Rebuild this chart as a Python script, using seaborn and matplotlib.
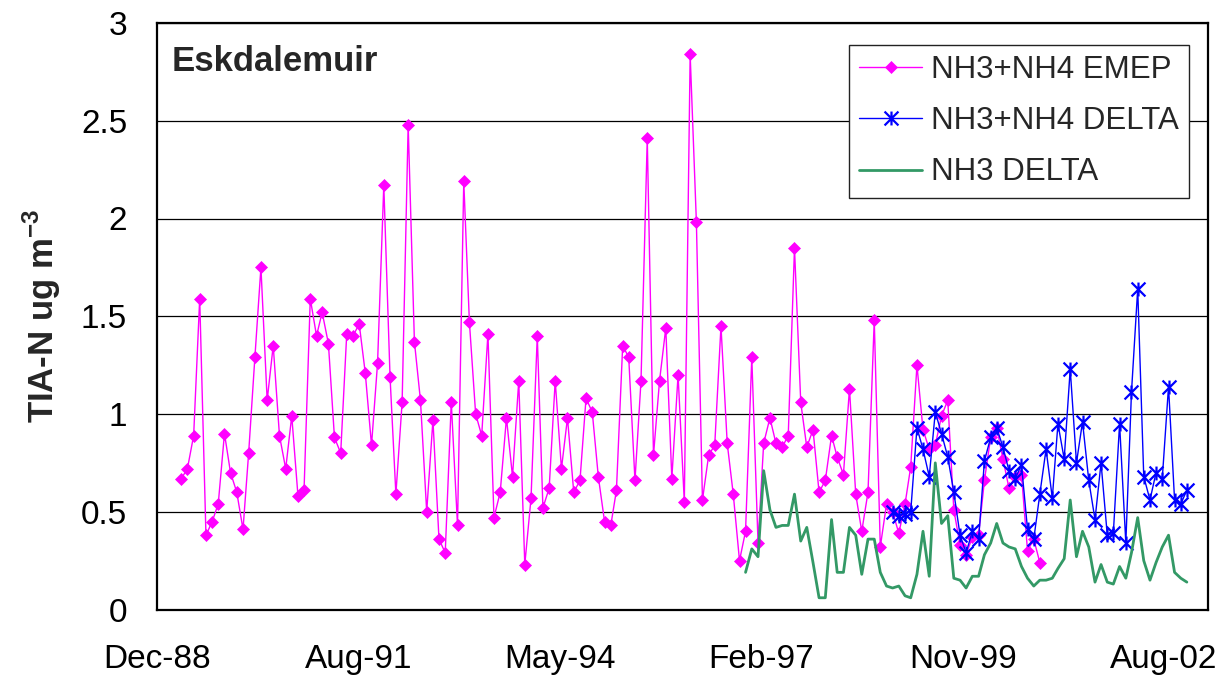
import matplotlib
matplotlib.use("Agg")
import matplotlib.pyplot as plt
from matplotlib.path import Path
import pandas as pd
import seaborn as sns

# monthly series, values
emep_start = "1989-04-01"
emep_values = [
    0.67, 0.72, 0.89, 1.59, 0.38, 0.45, 0.54, 0.90, 0.70,
    0.60, 0.41, 0.80, 1.29, 1.75, 1.07, 1.35, 0.89, 0.72, 0.99, 0.58, 0.61,
    1.59, 1.40, 1.52, 1.36, 0.88, 0.80, 1.41, 1.40, 1.46, 1.21, 0.84, 1.26,
    2.17, 1.19, 0.59, 1.06, 2.48, 1.37, 1.07, 0.50, 0.97, 0.36, 0.29, 1.06,
    0.43, 2.19, 1.47, 1.00, 0.89, 1.41, 0.47, 0.60, 0.98, 0.68, 1.17, 0.23,
    0.57, 1.40, 0.52, 0.62, 1.17, 0.72, 0.98, 0.60, 0.66, 1.08, 1.01, 0.68,
    0.45, 0.43, 0.61, 1.35, 1.29, 0.66, 1.17, 2.41, 0.79, 1.17, 1.44, 0.67,
    1.20, 0.55, 2.84, 1.98, 0.56, 0.79, 0.84, 1.45, 0.85, 0.59, 0.25, 0.40,
    1.29, 0.34, 0.85, 0.98, 0.85, 0.83, 0.89, 1.85, 1.06, 0.83, 0.92, 0.60,
    0.66, 0.89, 0.78, 0.69, 1.13, 0.59, 0.40, 0.60, 1.48, 0.32, 0.54, 0.50,
    0.39, 0.54, 0.73, 1.25, 0.92, 0.82, 0.84, 0.99, 1.07, 0.51, 0.33, 0.28,
    0.37, 0.38, 0.66, 0.88, 0.93, 0.77, 0.62, 0.68, 0.69, 0.30, 0.36, 0.24,
]

delta_tia_start = "1998-12-01"
delta_tia_values = [
    0.50,
    0.48, 0.49, 0.50, 0.93, 0.82, 0.68, 1.01, 0.90, 0.78, 0.60, 0.38, 0.29,
    0.40, 0.36, 0.76, 0.88, 0.93, 0.83, 0.71, 0.67, 0.74, 0.41, 0.36, 0.59,
    0.82, 0.57, 0.95, 0.77, 1.23, 0.75, 0.96, 0.66, 0.46, 0.75, 0.38, 0.39,
    0.95, 0.34, 1.11, 1.64, 0.68, 0.56, 0.70, 0.67, 1.14, 0.56, 0.54, 0.61,
]

delta_nh3_start = "1996-12-01"
delta_nh3_values = [
    0.19,
    0.31, 0.27, 0.71, 0.51, 0.42, 0.43, 0.43, 0.59, 0.35, 0.42, 0.24, 0.06,
    0.06, 0.46, 0.19, 0.19, 0.42, 0.38, 0.18, 0.36, 0.36, 0.19, 0.12, 0.11,
    0.12, 0.07, 0.06, 0.18, 0.40, 0.17, 0.75, 0.44, 0.48, 0.16, 0.15, 0.11,
    0.17, 0.17, 0.28, 0.34, 0.44, 0.34, 0.32, 0.31, 0.22, 0.16, 0.12, 0.15,
    0.15, 0.16, 0.21, 0.26, 0.56, 0.27, 0.40, 0.32, 0.14, 0.23, 0.14, 0.13,
    0.22, 0.16, 0.29, 0.47, 0.25, 0.15, 0.24, 0.32, 0.38, 0.19, 0.16, 0.14,
]

series_labels = ["NH3+NH4 EMEP", "NH3+NH4 DELTA", "NH3 DELTA"]
x_tick_labels = ["Dec-88", "Aug-91", "May-94", "Feb-97", "Nov-99", "Aug-02"]
y_ticks = [0, 0.5, 1, 1.5, 2, 2.5, 3]
y_tick_labels = ["0", "0.5", "1", "1.5", "2", "2.5", "3"]
site_name = "Eskdalemuir"


def monthly(start, values):
    return pd.DataFrame({
        "date": pd.date_range(start, periods=len(values), freq="MS"),
        "value": values,
    })


emep = monthly(emep_start, emep_values)
delta_tia = monthly(delta_tia_start, delta_tia_values)
delta_nh3 = monthly(delta_nh3_start, delta_nh3_values)

sns.set_style("white")
plt.rcParams["font.family"] = ["Liberation Sans", "DejaVu Sans"]
plt.rcParams["mathtext.fontset"] = "custom"
plt.rcParams["mathtext.rm"] = "Liberation Sans"
plt.rcParams["mathtext.bf"] = "Liberation Sans:bold"

fig = plt.figure(figsize=(12.25, 6.79), dpi=100)
ax = fig.add_axes([157 / 1225, 1 - 609.5 / 679, (1208 - 157) / 1225, 586.5 / 679])

# asterisk marker like Excel's: vertical bar plus an X
star = Path([(0, -1), (0, 1), (-1, -1), (1, 1), (-1, 1), (1, -1)],
            [Path.MOVETO, Path.LINETO] * 3)

sns.lineplot(data=emep, x="date", y="value", ax=ax, color="#FF00FF",
             linewidth=1.0, marker="D", markersize=6.3,
             markeredgecolor="#FF00FF", markeredgewidth=0.5,
             label=series_labels[0])
sns.lineplot(data=delta_tia, x="date", y="value", ax=ax, color="#0000FF",
             linewidth=1.0, marker=star, markersize=10,
             markeredgecolor="#0000FF", markeredgewidth=1.6,
             label=series_labels[1])
sns.lineplot(data=delta_nh3, x="date", y="value", ax=ax, color="#339966",
             linewidth=2.0, label=series_labels[2])

# Excel date axis starting Dec-88 with a major unit of 1000 days
x0 = pd.Timestamp("1988-12-01")
tick_dates = [x0 + pd.Timedelta(days=1000 * i) for i in range(len(x_tick_labels))]
ax.set_xlim(x0, pd.Timestamp("2003-03-16"))
ax.set_xticks(tick_dates)
ax.set_xticklabels(x_tick_labels)
ax.set_ylim(0, 3)
ax.set_yticks(y_ticks)
ax.set_yticklabels(y_tick_labels)

ax.grid(axis="y", color="black", linewidth=0.9)
ax.grid(axis="x", visible=False)
ax.set_axisbelow(True)
for side in ["left", "bottom", "top", "right"]:
    ax.spines[side].set_visible(True)
    ax.spines[side].set_color("black")
    ax.spines[side].set_linewidth(1.6)

ax.tick_params(axis="both", direction="out", length=7.5, width=1,
               color="black", labelsize=24, labelcolor="black")
ax.tick_params(axis="x", pad=17.5)
ax.tick_params(axis="y", pad=14)
ax.set_xlabel("")
ax.set_ylabel(r"TIA-N ug m$^{\mathbf{-3}}$", fontsize=25, fontweight="bold",
              labelpad=13)

ax.text(0.014, 0.962, site_name, transform=ax.transAxes, fontsize=25,
        fontweight="bold", va="top", ha="left")

leg = ax.legend(loc="upper right", bbox_to_anchor=(1189 / 1225, 1 - 45 / 679),
                bbox_transform=fig.transFigure, borderaxespad=0,
                fontsize=22.5, frameon=True, fancybox=False, shadow=False,
                handlelength=2.0, handletextpad=0.3, labelspacing=0.68,
                borderpad=0.32)
leg.get_frame().set_edgecolor("#222222")
leg.get_frame().set_linewidth(1.0)
leg.get_frame().set_alpha(1)

fig.savefig("out.png", dpi=100)
